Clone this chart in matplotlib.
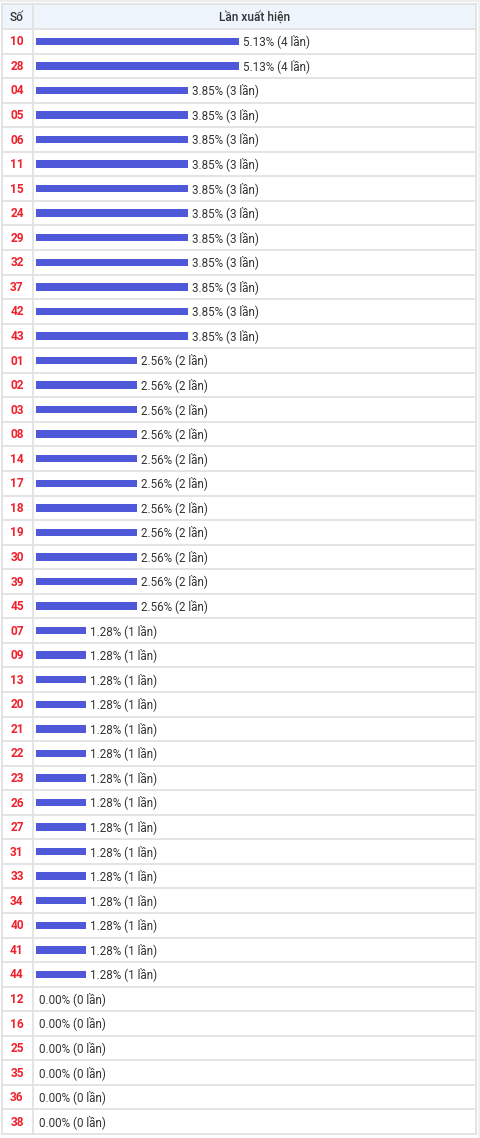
import matplotlib
matplotlib.use("Agg")
import matplotlib.pyplot as plt

plt.rcParams['font.family'] = ['Roboto', 'DejaVu Sans']

numbers = ["10", "28", "04", "05", "06", "11", "15", "24", "29", "32", "37", "42", "43",
           "01", "02", "03", "08", "14", "17", "18", "19", "30", "39", "45",
           "07", "09", "13", "20", "21", "22", "23", "26", "27", "31", "33", "34", "40", "41", "44",
           "12", "16", "25", "35", "36", "38"]
counts = [4, 4, 3, 3, 3, 3, 3, 3, 3, 3, 3, 3, 3,
          2, 2, 2, 2, 2, 2, 2, 2, 2, 2, 2,
          1, 1, 1, 1, 1, 1, 1, 1, 1, 1, 1, 1, 1, 1, 1,
          0, 0, 0, 0, 0, 0]
percents = [5.13, 5.13, 3.85, 3.85, 3.85, 3.85, 3.85, 3.85, 3.85, 3.85, 3.85, 3.85, 3.85,
            2.56, 2.56, 2.56, 2.56, 2.56, 2.56, 2.56, 2.56, 2.56, 2.56, 2.56,
            1.28, 1.28, 1.28, 1.28, 1.28, 1.28, 1.28, 1.28, 1.28, 1.28, 1.28, 1.28, 1.28, 1.28, 1.28,
            0.00, 0.00, 0.00, 0.00, 0.00, 0.00]
header_num = "Số"
header_val = "Lần xuất hiện"

W, H = 480, 1138
DPI = 100
fig = plt.figure(figsize=(W / DPI, H / DPI), dpi=DPI)
fig.patch.set_facecolor("white")

# background table axes in pixel coordinates
bg = fig.add_axes([0, 0, 1, 1])
bg.set_xlim(0, W)
bg.set_ylim(H, 0)
bg.axis("off")

left, right = 1.5, 476.0
top, head_bot, bottom = 4.0, 29.0, 1134.0
col_x = 32.5
n = len(numbers)
row_h = (bottom - head_bot) / n
grid_c = "#e2e2e2"

# faint outer frame
bg.plot([0, W], [0.5, 0.5], color="#ececec", lw=1.5, zorder=1)
bg.plot([478.5, 478.5], [0, H], color="#f0f0f0", lw=2, zorder=1)

# header background
bg.add_patch(plt.Rectangle((left, top), right - left, head_bot - top,
                           facecolor="#eef5fd", edgecolor="none", zorder=0))
# horizontal lines
ys = [top, head_bot] + [head_bot + row_h * (i + 1) for i in range(n)]
for y in ys:
    bg.plot([left, right], [y, y], color=grid_c, lw=1.3, zorder=2)
# vertical lines
for x in [left, col_x, right]:
    bg.plot([x, x], [top, bottom], color=grid_c, lw=1.3, zorder=2)

# header text
bg.text((left + col_x) / 2, (top + head_bot) / 2 + 0.5, header_num, ha="center", va="center",
        fontsize=8.6, color="#333333", fontweight="medium")
bg.text((col_x + right) / 2, (top + head_bot) / 2 + 0.5, header_val, ha="center", va="center",
        fontsize=8.6, color="#333333", fontweight="medium")

# number column
for i, num in enumerate(numbers):
    yc = head_bot + row_h * (i + 0.5)
    bg.text((left + col_x) / 2, yc + 0.5, num, ha="center", va="center",
            fontsize=8.6, color="#f0202c", fontweight="bold")

# bar axes
bx0 = 35.5
px_per_pct = 203.0 / 5.13
ax = fig.add_axes([bx0 / W, 1 - bottom / H, (right - bx0) / W, (bottom - head_bot) / H])
ax.set_xlim(0, (right - bx0) / px_per_pct)
ax.set_ylim(n - 0.5, -0.5)
ax.axis("off")
ax.patch.set_alpha(0)

bar_h = 7.5 / row_h
rows = list(range(n))
ax.barh(rows, percents, height=bar_h, color="#4f58d9", edgecolor="none", zorder=3)
for i, (p, c) in enumerate(zip(percents, counts)):
    ax.annotate(f"{p:.2f}% ({c} lần)", xy=(p, i), xytext=(3.0 if p > 0 else 2.5, 0),
                textcoords="offset points", ha="left", va="center",
                fontsize=8.4, color="#333333", zorder=4)

fig.savefig("out.png", dpi=DPI, facecolor="white")
